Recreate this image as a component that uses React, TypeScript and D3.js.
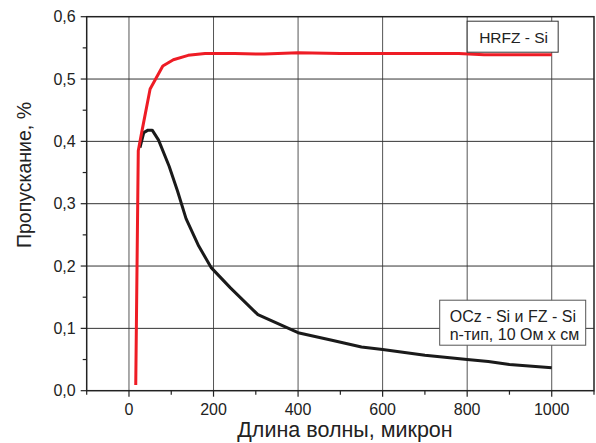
import { useMemo } from "react";
import * as d3 from "d3";

const width = 596;
const height = 443;
const margin = { top: 16.7, right: 2, bottom: 52.3, left: 86.7 };
const innerW = width - margin.left - margin.right;
const innerH = height - margin.top - margin.bottom;

// HRFZ - Si curve (wavelength, transmission)
const hrfzX = [16, 22, 30, 50, 80, 105, 140, 180, 250, 320, 400, 500, 600, 700, 780, 840, 900, 1000];
const hrfzY = [0.009, 0.385, 0.414, 0.484, 0.521, 0.531, 0.538, 0.541, 0.541, 0.54, 0.542, 0.541, 0.541, 0.541, 0.541, 0.539, 0.539, 0.539];

// OCz - Si and FZ - Si curve
const oczX = [26, 35, 45, 55, 70, 95, 115, 135, 165, 195, 240, 305, 400, 480, 550, 600, 700, 800, 850, 900, 1000];
const oczY = [0.39, 0.414, 0.418, 0.418, 0.402, 0.36, 0.32, 0.276, 0.232, 0.197, 0.165, 0.122, 0.093, 0.081, 0.07, 0.066, 0.057, 0.05, 0.047, 0.042, 0.037];

const xTicks = [0, 200, 400, 600, 800, 1000];
const xMinor = [-100, 100, 300, 500, 700, 900, 1100];
const yTicks = [0, 0.1, 0.2, 0.3, 0.4, 0.5, 0.6];
const yMinor = [0.05, 0.15, 0.25, 0.35, 0.45, 0.55];

const font = "Arial, 'Liberation Sans', sans-serif";

export default function App() {
  const x = d3.scaleLinear().domain([-100, 1100]).range([0, innerW]);
  const y = d3.scaleLinear().domain([0, 0.6]).range([innerH, 0]);

  const line = d3
    .line<[number, number]>()
    .x((d) => x(d[0]))
    .y((d) => y(d[1]));

  const hrfz = useMemo(() => hrfzX.map((v, i) => [v, hrfzY[i]] as [number, number]), []);
  const ocz = useMemo(() => oczX.map((v, i) => [v, oczY[i]] as [number, number]), []);

  const fmt = (v: number) => v.toFixed(1).replace(".", ",");

  return (
    <div style={{ position: "fixed", left: 0, top: 0 }}>
      <svg width={width} height={height} style={{ display: "block", background: "#fff" }}>
        <g transform={`translate(${margin.left},${margin.top})`}>
          {/* grid */}
          {xTicks.map((t) => (
            <line key={"gx" + t} x1={x(t)} x2={x(t)} y1={0} y2={innerH} stroke="#555" strokeWidth={1} />
          ))}
          {yTicks.slice(1, -1).map((t) => (
            <line key={"gy" + t} x1={0} x2={innerW} y1={y(t)} y2={y(t)} stroke="#333" strokeWidth={1} />
          ))}

          {/* curves */}
          <path d={line(ocz) ?? ""} fill="none" stroke="#1a1a1a" strokeWidth={3} strokeLinejoin="round" />
          <path d={line(hrfz) ?? ""} fill="none" stroke="#ee1c25" strokeWidth={3} strokeLinejoin="round" />

          {/* frame */}
          <rect x={0} y={0} width={innerW} height={innerH} fill="none" stroke="#222" strokeWidth={1.5} />

          {/* bottom axis ticks */}
          {xTicks.map((t) => (
            <g key={"xt" + t}>
              <line x1={x(t)} x2={x(t)} y1={innerH} y2={innerH + 6} stroke="#222" strokeWidth={1.2} />
              <text x={x(t)} y={innerH + 24} textAnchor="middle" fontFamily={font} fontSize={16} fill="#222">
                {t}
              </text>
            </g>
          ))}
          {xMinor.map((t) => (
            <line key={"xm" + t} x1={x(t)} x2={x(t)} y1={innerH} y2={innerH + 4} stroke="#222" strokeWidth={1.2} />
          ))}

          {/* left axis ticks */}
          {yTicks.map((t) => (
            <g key={"yt" + t}>
              <line x1={-6} x2={0} y1={y(t)} y2={y(t)} stroke="#222" strokeWidth={1.2} />
              <text x={-11} y={y(t) + 5.5} textAnchor="end" fontFamily={font} fontSize={16} fill="#222">
                {fmt(t)}
              </text>
            </g>
          ))}
          {yMinor.map((t) => (
            <line key={"ym" + t} x1={-4} x2={0} y1={y(t)} y2={y(t)} stroke="#222" strokeWidth={1.2} />
          ))}

          {/* legends */}
          <rect x={x(800)} y={4.5} width={91} height={31} fill="#fff" stroke="#333" strokeWidth={1} />
          <text x={x(800) + 12} y={26} fontFamily={font} fontSize={15.5} fill="#222">
            HRFZ - Si
          </text>

          <rect x={x(735)} y={283.5} width={146} height={45} fill="#fff" stroke="#555" strokeWidth={1} />
          <text x={x(735) + 10} y={305} fontFamily={font} fontSize={16} fill="#222">
            OCz - Si и FZ - Si
          </text>
          <text x={x(735) + 10} y={323} fontFamily={font} fontSize={16} fill="#222">
            n-тип, 10 Ом х см
          </text>

          {/* axis titles */}
          <text x={x(511)} y={innerH + 46} textAnchor="middle" fontFamily={font} fontSize={21.5} fill="#222">
            Длина волны, микрон
          </text>
        </g>
        <text
          transform={`translate(31,175) rotate(-90)`}
          textAnchor="middle"
          fontFamily={font}
          fontSize={19.5}
          fill="#222"
        >
          Пропускание, %
        </text>
      </svg>
    </div>
  );
}
